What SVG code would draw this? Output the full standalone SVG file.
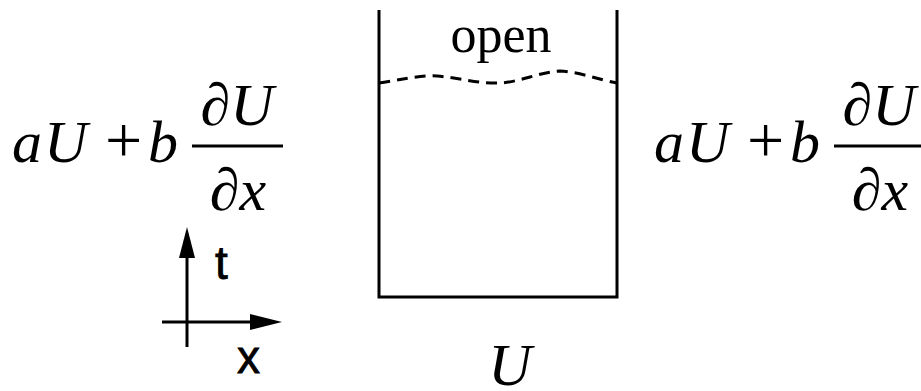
<svg xmlns="http://www.w3.org/2000/svg" width="921" height="391" viewBox="0 0 921 391">
<style>
.m{font-family:"Liberation Serif","Times New Roman",serif;font-style:italic;font-size:60px;fill:#000}
.u{font-family:"Liberation Serif","Times New Roman",serif;font-size:66px;fill:#000}
.s{font-family:"Liberation Sans",Arial,sans-serif;font-size:46px;fill:#000;stroke:#000;stroke-width:0.8}
.ln{stroke:#000;stroke-width:3;fill:none}
</style>
<defs>
<g id="formula">
<text class="m" x="12" y="162" font-size="66">a</text>
<text class="m" x="44" y="162">U</text>
<text class="u" x="105" y="162">+</text>
<text class="m" x="148" y="162" font-size="70">b</text>
<line class="ln" x1="192" y1="146" x2="283" y2="146"/>
<text class="m" x="237" y="125" text-anchor="middle" font-size="62">∂U</text>
<text class="m" x="238" y="210" text-anchor="middle" font-size="62">∂x</text>
</g>
</defs>
<rect width="921" height="391" fill="#fff"/>
<g id="left-bc"><use href="#formula"/></g>
<g id="right-bc"><use href="#formula" x="642"/></g>
<g id="domain">
<path class="ln" d="M379,10 V297 H617 V10"/>
<path d="M379,83 C400,80 420,75 437,76 C460,78 480,84 500,83 C520,82 540,72 560,71 C580,72 600,80 617,83" fill="none" stroke="#000" stroke-width="3" stroke-dasharray="11,7"/>
<text x="501" y="52" text-anchor="middle" font-family="Liberation Serif, Times New Roman, serif" font-size="52">open</text>
<text class="m" x="510" y="385" text-anchor="middle">U</text>
</g>
<g id="axes">
<line class="ln" x1="187" y1="256" x2="187" y2="347"/>
<polygon points="187,227 195,258 179,258"/>
<line class="ln" x1="162" y1="322" x2="252" y2="322"/>
<polygon points="282,322 250,314 250,330"/>
<text class="s" x="215" y="279" font-size="42">t</text>
<text class="s" x="237" y="373" font-size="48">x</text>
</g>
</svg>
